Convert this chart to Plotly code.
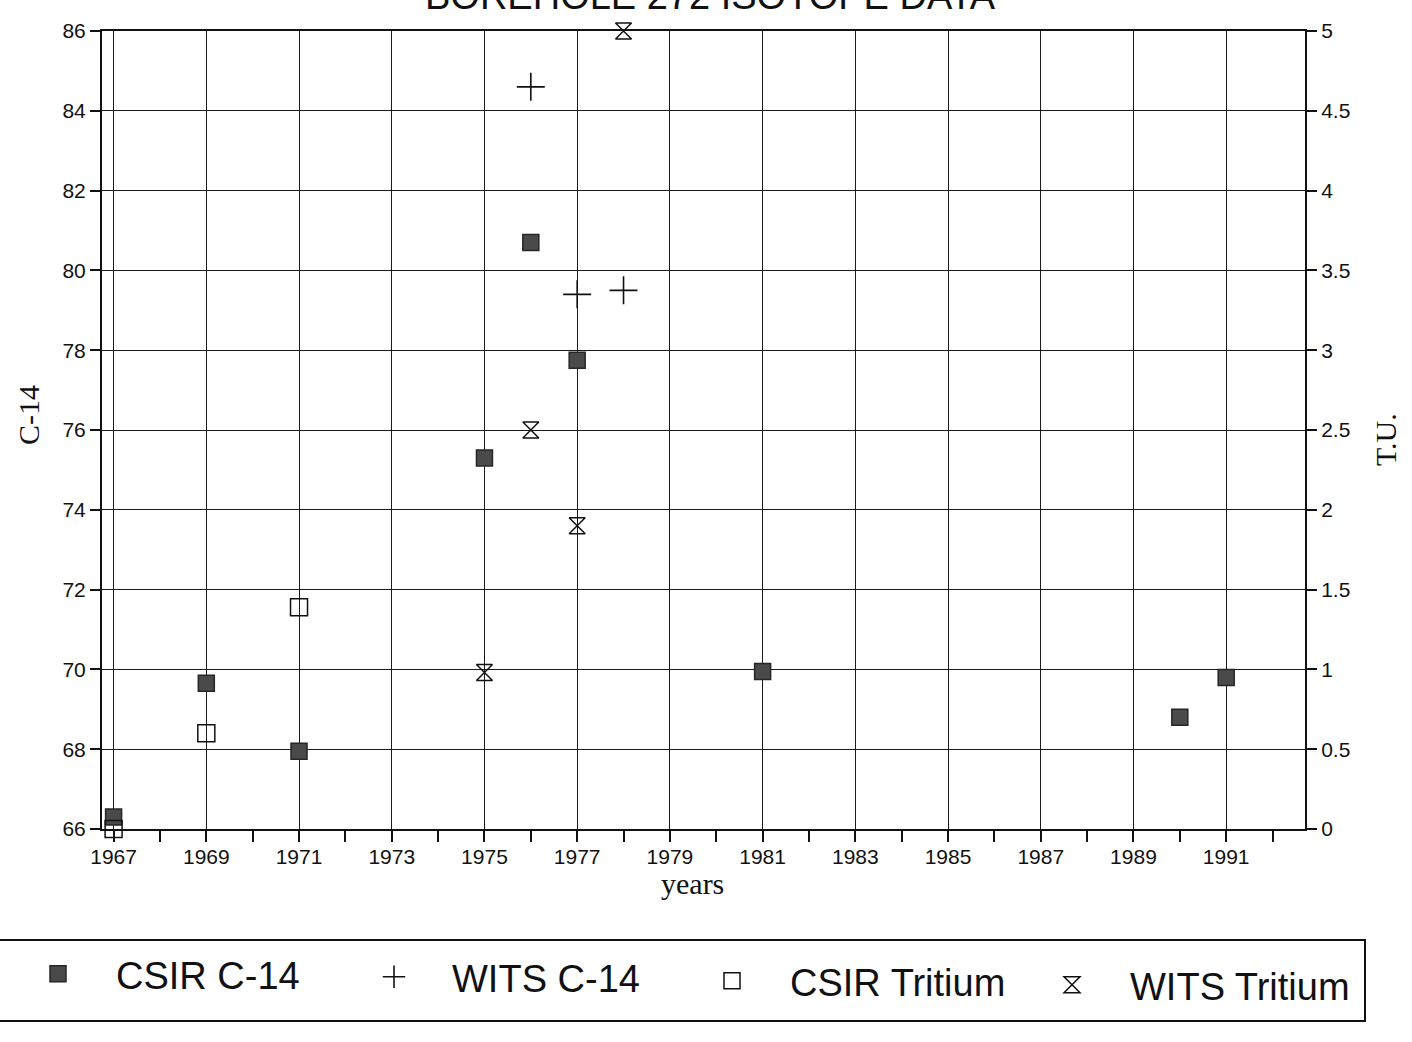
import plotly.graph_objects as go

# ---------------- data ----------------
csir_c14_years = [1967, 1969, 1971, 1975, 1976, 1977, 1981, 1990, 1991]
csir_c14 = [66.3, 69.65, 67.95, 75.3, 80.7, 77.75, 69.95, 68.8, 69.8]

wits_c14_years = [1976, 1977, 1978]
wits_c14 = [84.6, 79.4, 79.5]

csir_tritium_years = [1967, 1969, 1971]
csir_tritium = [0.0, 0.6, 1.39]

wits_tritium_years = [1975, 1976, 1977, 1978]
wits_tritium = [0.98, 2.5, 1.9, 5.0]

x_tick_years = list(range(1967, 1993, 2))
left_ticks = list(range(66, 87, 2))
right_ticks = [0, 0.5, 1, 1.5, 2, 2.5, 3, 3.5, 4, 4.5, 5]
right_tick_text = ["0", "0.5", "1", "1.5", "2", "2.5", "3", "3.5", "4", "4.5", "5"]

# ---------------- layout geometry ----------------
W, H = 1412, 1042
L, R, T, B = 102, 107, 31, 1042 - 829
PW = W - L - R
PH = H - T - B


def px_x(p):
    return (p - L) / PW


def px_y(p):
    return (H - B - p) / PH


SANS = "Liberation Sans, Arial, Helvetica, sans-serif"
SERIF = "Liberation Serif, Times New Roman, serif"

fig = go.Figure()

fig.add_trace(go.Scatter(
    x=csir_c14_years, y=csir_c14, mode="markers", name="CSIR C-14",
    marker=dict(symbol="square", size=16, color="#4a4a4a",
                line=dict(color="#262626", width=1.5)),
    cliponaxis=False, yaxis="y", legend="legend"))

fig.add_trace(go.Scatter(
    x=wits_c14_years, y=wits_c14, mode="markers", name="WITS C-14",
    marker=dict(symbol="cross-thin", size=20, color="#111",
                line=dict(color="#111", width=1.6)),
    cliponaxis=False, yaxis="y", legend="legend2"))

fig.add_trace(go.Scatter(
    x=csir_tritium_years, y=csir_tritium, mode="markers", name="CSIR Tritium",
    marker=dict(symbol="square-open", size=17, color="#111",
                line=dict(color="#111", width=1.5)),
    cliponaxis=False, yaxis="y2", legend="legend3"))

fig.add_trace(go.Scatter(
    x=wits_tritium_years, y=wits_tritium, mode="markers", name="WITS Tritium",
    marker=dict(symbol="hourglass-open", size=16, color="#111",
                line=dict(color="#111", width=1.5)),
    cliponaxis=False, yaxis="y2", legend="legend4"))


def legend_box(px_left, py_mid):
    return dict(
        orientation="h", xref="container", yref="container",
        x=px_left / W, xanchor="left", y=1 - py_mid / H, yanchor="middle",
        font=dict(family=SANS, size=38, color="#111"),
        itemwidth=106, bgcolor="rgba(0,0,0,0)", borderwidth=0,
        itemclick=False, itemdoubleclick=False,
    )


fig.update_layout(
    width=W, height=H,
    margin=dict(l=L, r=R, t=T, b=B, pad=0),
    paper_bgcolor="white", plot_bgcolor="white",
    font=dict(family=SANS, color="#111"),
    showlegend=True,
    legend=legend_box(0, 974),
    legend2=legend_box(336, 977),
    legend3=legend_box(674, 981),
    legend4=legend_box(1014, 985),
    xaxis=dict(
        range=[1966.75, 1992.7], tickmode="array", tickvals=x_tick_years,
        ticktext=[str(y) for y in x_tick_years],
        ticks="outside", ticklen=8, tickwidth=1.5, tickcolor="#111",
        minor=dict(dtick=1, tick0=1966, ticks="outside", ticklen=11,
                   tickwidth=1.5, tickcolor="#111", showgrid=False),
        showgrid=True, gridcolor="#1a1a1a", gridwidth=1.3,
        showline=True, linecolor="#111", linewidth=2, mirror=True,
        tickfont=dict(family=SANS, size=21, color="#111"),
        zeroline=False, automargin=False,
    ),
    yaxis=dict(
        range=[66, 86], tickmode="array", tickvals=left_ticks,
        ticks="outside", ticklen=10, tickwidth=1.5, tickcolor="#111",
        showgrid=True, gridcolor="#1a1a1a", gridwidth=1.3,
        showline=True, linecolor="#111", linewidth=2,
        tickfont=dict(family=SANS, size=21, color="#111"),
        zeroline=False, automargin=False,
    ),
    yaxis2=dict(
        range=[0, 5], overlaying="y", side="right", tickmode="array",
        tickvals=right_ticks, ticktext=right_tick_text,
        ticks="outside", ticklen=10, tickwidth=1.5, tickcolor="#111",
        showgrid=False, showline=True, linecolor="#111", linewidth=2,
        tickfont=dict(family=SANS, size=21, color="#111"),
        zeroline=False, automargin=False,
    ),
    shapes=[
        dict(type="rect", xref="paper", yref="paper",
             x0=px_x(-10), x1=px_x(1365), y0=px_y(940), y1=px_y(1021),
             line=dict(color="#111", width=2), fillcolor="rgba(0,0,0,0)",
             layer="below"),
    ],
    annotations=[
        dict(text="BOREHOLE 272 ISOTOPE DATA", xref="paper", yref="paper",
             x=px_x(710), y=px_y(-4), xanchor="center", yanchor="middle",
             showarrow=False, font=dict(family=SANS, size=38, color="#111")),
        dict(text="C-14", xref="paper", yref="paper",
             x=px_x(28), y=px_y(415), xanchor="center", yanchor="middle",
             textangle=-90, showarrow=False,
             font=dict(family=SERIF, size=30, color="#111")),
        dict(text="T.U.", xref="paper", yref="paper",
             x=px_x(1386), y=px_y(440), xanchor="center", yanchor="middle",
             textangle=-90, showarrow=False,
             font=dict(family=SERIF, size=30, color="#111")),
        dict(text="years", xref="paper", yref="paper",
             x=px_x(692), y=px_y(883), xanchor="center", yanchor="middle",
             showarrow=False, font=dict(family=SERIF, size=30, color="#111")),
    ],
)

fig.write_html("out.html")
